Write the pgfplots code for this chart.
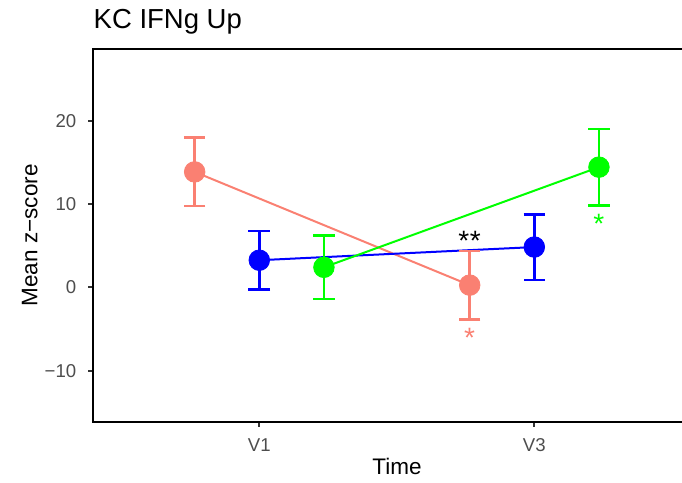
\documentclass[border=0pt]{standalone}
\usepackage{fontspec}
\setmainfont{Liberation Sans}
\usepackage{pgfplots}
\pgfplotsset{compat=1.18}
\definecolor{salm}{HTML}{FA8072}
\definecolor{blu}{HTML}{0000FF}
\definecolor{grn}{HTML}{00FF00}
\definecolor{tickc}{HTML}{333333}
\definecolor{labc}{HTML}{4D4D4D}
\begin{document}
\begin{tikzpicture}
\useasboundingbox (-46.65pt,-30.65pt) rectangle (294.35pt,210.85pt);
\begin{axis}[
  at={(0,0)}, anchor=south west,
  scale only axis, width=294.35pt, height=186.35pt,
  xmin=-0.6036, xmax=1.537, ymin=-16.13, ymax=28.6,
  axis x line*=bottom, axis y line*=left, axis line style={draw=none},
  xtick={0,1}, xticklabels={V1,V3},
  ytick={-10,0,10,20}, yticklabels={−10,0,10,20},
  minor tick num=0,
  tick align=outside, major tick length=2.5pt,
  tick style={color=tickc, line width=0.9pt},
  xticklabel style={anchor=base, inner sep=0pt, yshift=-12.5pt, font=\fontsize{9.3}{10}\selectfont, text=labc},
  yticklabel style={anchor=east, inner sep=0pt, xshift=-5.8pt, font=\fontsize{9.3}{10}\selectfont, text=labc},
  title={KC IFNg Up},
  every axis title/.style={at={(axis description cs:0,1)}, anchor=base west, inner sep=0pt, yshift=10pt, font=\fontsize{13.75pt}{16pt}\selectfont},
  xlabel={Time},
  every axis x label/.style={at={(axis description cs:0.516,0)}, anchor=base, inner sep=0pt, yshift=-26.65pt, font=\fontsize{11.25pt}{13pt}\selectfont},
  ylabel={Mean z−score},
  every axis y label/.style={at={(axis description cs:-0.0951,0.5)}, rotate=90, anchor=base, inner sep=0pt, font=\fontsize{11.25pt}{13pt}\selectfont},
  extra description/.code={\draw[black, line width=1pt] (1,0) -- (0,0) -- (0,1) -- (1,1);},
]
% connecting lines
\addplot[salm, line width=1pt, mark=none] coordinates {(-0.235,13.85) (0.765,0.26)};
\addplot[blu, line width=1pt, mark=none] coordinates {(0,3.25) (1,4.83)};
\addplot[grn, line width=1pt, mark=none] coordinates {(0.235,2.4) (1.235,14.42)};
% error bars
\addplot[draw=none, line width=1.35pt, mark=none, error bars/.cd, y dir=both, y explicit,
  error bar style={draw=salm, line width=1.35pt},
  error mark options={rotate=90, draw=salm, line width=1.35pt, mark size=5.4pt}]
  coordinates {(-0.235,13.85) +- (0,4.1) (0.765,0.26) +- (0,4.1)};
\addplot[draw=none, line width=1.35pt, mark=none, error bars/.cd, y dir=both, y explicit,
  error bar style={draw=blu, line width=1.35pt},
  error mark options={rotate=90, draw=blu, line width=1.35pt, mark size=5.4pt}]
  coordinates {(0,3.25) +- (0,3.52) (1,4.83) +- (0,3.94)};
\addplot[draw=none, line width=1.35pt, mark=none, error bars/.cd, y dir=both, y explicit,
  error bar style={draw=grn, line width=1.35pt},
  error mark options={rotate=90, draw=grn, line width=1.35pt, mark size=5.4pt}]
  coordinates {(0.235,2.4) +- (0,3.8) (1.235,14.42) +- (0,4.58)};
% points
\addplot[salm, only marks, mark=*, mark size=5.15pt, mark options={fill=salm, draw=salm, line width=0.4pt}] coordinates {(-0.235,13.85) (0.765,0.26)};
\addplot[blu, only marks, mark=*, mark size=5.15pt, mark options={fill=blu, draw=blu, line width=0.4pt}] coordinates {(0,3.25) (1,4.83)};
\addplot[grn, only marks, mark=*, mark size=5.15pt, mark options={fill=grn, draw=grn, line width=0.4pt}] coordinates {(0.235,2.4) (1.235,14.42)};
% significance stars
\addplot[draw=none, mark=none, nodes near coords, point meta=explicit symbolic,
  every node near coord/.style={anchor=center, inner sep=0pt, yshift=-2.8pt, text=black, font=\fontsize{14pt}{15pt}\selectfont}]
  coordinates {(0.765,6.28) [*\kern0.3pt*]};
\addplot[draw=none, mark=none, nodes near coords, point meta=explicit symbolic,
  every node near coord/.style={anchor=center, inner sep=0pt, yshift=-2.8pt, text=salm, font=\fontsize{14pt}{15pt}\selectfont}]
  coordinates {(0.765,-5.4) [*]};
\addplot[draw=none, mark=none, nodes near coords, point meta=explicit symbolic,
  every node near coord/.style={anchor=center, inner sep=0pt, yshift=-2.8pt, text=grn, font=\fontsize{14pt}{15pt}\selectfont}]
  coordinates {(1.235,8.28) [*]};
\end{axis}
\end{tikzpicture}
\end{document}
